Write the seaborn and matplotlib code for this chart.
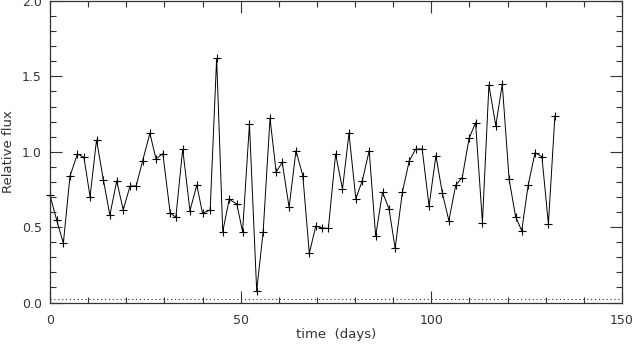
import matplotlib
matplotlib.use("Agg")
import matplotlib.pyplot as plt
from matplotlib.ticker import MultipleLocator
import seaborn as sns
import pandas as pd

time_days = [0.0, 1.75, 3.5, 5.25, 7.2, 8.9, 10.5, 12.2, 14.0, 15.7, 17.5, 19.2,
             21.0, 22.6, 24.3, 26.2, 27.8, 29.6, 31.5, 33.0, 34.8, 36.7, 38.5, 40.0,
             42.0, 43.7, 45.3, 47.0, 49.0, 50.5, 52.3, 54.2, 55.9, 57.7, 59.3, 60.9,
             62.7, 64.5, 66.3, 68.0, 69.7, 71.4, 73.0, 74.9, 76.7, 78.4, 80.2, 81.9,
             83.7, 85.4, 87.2, 88.9, 90.5, 92.4, 94.2, 95.9, 97.6, 99.4, 101.2, 102.9,
             104.6, 106.4, 108.1, 109.9, 111.6, 113.4, 115.1, 116.9, 118.6, 120.4, 122.1,
             123.7, 125.4, 127.2, 129.0, 130.7, 132.4]
rel_flux = [0.71, 0.547, 0.393, 0.839, 0.985, 0.963, 0.702, 1.078, 0.813, 0.580, 0.806, 0.614,
            0.773, 0.773, 0.941, 1.122, 0.952, 0.988, 0.596, 0.565, 1.018, 0.609, 0.779, 0.592,
            0.614, 1.620, 0.470, 0.685, 0.653, 0.470, 1.184, 0.078, 0.470, 1.222, 0.865, 0.930,
            0.631, 1.007, 0.841, 0.326, 0.507, 0.494, 0.492, 0.985, 0.753, 1.122, 0.689, 0.808,
            1.007, 0.441, 0.731, 0.622, 0.360, 0.731, 0.939, 1.018, 1.018, 0.640, 0.974, 0.724,
            0.543, 0.779, 0.828, 1.089, 1.193, 0.530, 1.443, 1.173, 1.449, 0.817, 0.569,
            0.476, 0.779, 0.994, 0.967, 0.521, 1.237]
ref_level = 0.02
x_range = [0, 150]
y_range = [0, 2.0]

sns.set_theme(style="white")
plt.rcParams['font.family'] = ['DejaVu Sans']

df = pd.DataFrame({"time": time_days, "flux": rel_flux})

fig = plt.figure(figsize=(6.34, 3.45), dpi=100)
ax = fig.add_axes([50/634, 1 - 302.5/345, 572/634, 301.5/345])

sns.lineplot(data=df, x="time", y="flux", ax=ax, color="black", linewidth=0.7,
             marker="+", markersize=6, markeredgewidth=0.8, markeredgecolor="black",
             estimator=None, sort=False, clip_on=False)
ax.plot(x_range, [ref_level, ref_level], linestyle=(0, (1, 2.5)), color="#333333", linewidth=0.8)

ax.set_xlim(*x_range)
ax.set_ylim(*y_range)
ax.xaxis.set_major_locator(MultipleLocator(50))
ax.xaxis.set_minor_locator(MultipleLocator(10))
ax.yaxis.set_major_locator(MultipleLocator(0.5))
ax.yaxis.set_minor_locator(MultipleLocator(0.1))
ax.yaxis.set_major_formatter(matplotlib.ticker.FormatStrFormatter("%.1f"))

ax.tick_params(which="both", direction="in", top=True, right=True, bottom=True, left=True,
               colors="#333333", labelcolor="#333333", labelsize=9, width=0.8)
ax.tick_params(which="major", length=8.5, pad=6)
ax.tick_params(which="minor", length=4.2)
ax.tick_params(axis="x", which="major", pad=8)

for s in ax.spines.values():
    s.set_color("#333333")
    s.set_linewidth(0.9)

ax.set_xlabel("time  (days)", fontsize=9.5, color="#333333", labelpad=1)
ax.set_ylabel("Relative flux", fontsize=9.5, color="#333333")
ax.yaxis.set_label_coords(-0.062, 0.5)

fig.savefig("out.png", dpi=100)
